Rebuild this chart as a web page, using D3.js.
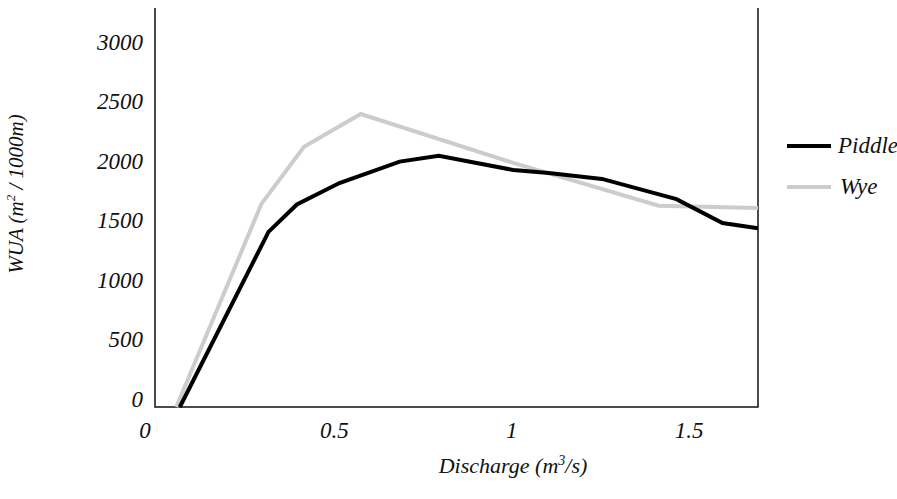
<!DOCTYPE html>
<html>
<head>
<meta charset="utf-8">
<script src="https://cdn.jsdelivr.net/npm/d3@7"></script>
<style>
  body { margin: 0; background: #fff; }
</style>
</head>
<body>
<svg id="chart" width="897" height="499"></svg>
<script>
// discharge (m3/s) and WUA
let piddleX = [0.07, 0.32, 0.40, 0.52, 0.69, 0.80, 1.01, 1.11, 1.26, 1.47, 1.60, 1.70];
let piddleY = [0, 1470, 1700, 1880, 2060, 2110, 1990, 1965, 1915, 1745, 1545, 1500];
let wyeX = [0.06, 0.30, 0.42, 0.58, 1.01, 1.42, 1.70];
let wyeY = [0, 1705, 2185, 2460, 2050, 1690, 1670];
let xTicks = [0, 0.5, 1, 1.5];
let yTicks = [0, 500, 1000, 1500, 2000, 2500, 3000];

let series = [
  {name: 'Wye', color: '#cccccc', xs: wyeX, ys: wyeY},
  {name: 'Piddle', color: '#000000', xs: piddleX, ys: piddleY}
];

let svg = d3.select("#chart")
  .attr('font-family', "'Liberation Serif', 'Times New Roman', serif")
  .attr('font-style', 'italic');

let plotLeft = 155, plotRight = 758, plotTop = 8, plotBottom = 407;

let xScale = d3.scaleLinear().domain([0, 1.7]).range([plotLeft, plotRight]);
let yScale = d3.scaleLinear().domain([0, 3350]).range([plotBottom, plotTop]);

// frame: left, bottom, right
svg.append('path')
  .attr('d', `M${plotLeft},${plotTop}V${plotBottom}H${plotRight}V${plotTop}`)
  .attr('fill', 'none')
  .attr('stroke', '#111')
  .attr('stroke-width', 1.5);

// y tick labels, baseline on the value
svg.selectAll('.ytick')
  .data(yTicks)
  .enter()
  .append('text')
  .attr('class', 'ytick')
  .attr('x', 143)
  .attr('y', d => yScale(d))
  .attr('text-anchor', 'end')
  .attr('font-size', 23)
  .attr('fill', '#111')
  .text(d => d);

// x tick labels
svg.selectAll('.xtick')
  .data(xTicks)
  .enter()
  .append('text')
  .attr('class', 'xtick')
  .attr('x', d => xScale(d) + (d === 0 ? -10 : 2))
  .attr('y', 438)
  .attr('text-anchor', 'middle')
  .attr('font-size', 23)
  .attr('fill', '#111')
  .text(d => d);

let line = d3.line()
  .x(d => xScale(d[0]))
  .y(d => yScale(d[1]));

svg.selectAll('.series')
  .data(series)
  .enter()
  .append('path')
  .attr('class', 'series')
  .attr('d', s => line(s.xs.map((x, i) => [x, s.ys[i]])))
  .attr('fill', 'none')
  .attr('stroke', s => s.color)
  .attr('stroke-width', 4)
  .attr('stroke-linejoin', 'miter');

// legend
let legendItems = [series[1], series[0]];
let legend = svg.selectAll('.legend')
  .data(legendItems)
  .enter()
  .append('g')
  .attr('class', 'legend')
  .attr('transform', (d, i) => `translate(787, ${146 + i * 41})`);

legend.append('line')
  .attr('x1', 0).attr('x2', 44)
  .attr('stroke', d => d.color)
  .attr('stroke-width', 4);

legend.append('text')
  .attr('x', (d, i) => i === 0 ? 51 : 53)
  .attr('y', 7)
  .attr('font-size', 23)
  .attr('fill', '#111')
  .text(d => d.name);

// axis titles
let xt = svg.append('text')
  .attr('x', 513)
  .attr('y', 473)
  .attr('text-anchor', 'middle')
  .attr('font-size', 22)
  .attr('fill', '#111');
xt.append('tspan').text('Discharge (m');
xt.append('tspan').attr('font-size', 14).attr('dy', -8).text('3');
xt.append('tspan').attr('dy', 8).text('/s)');

let yt = svg.append('text')
  .attr('transform', 'translate(23, 194) rotate(-90)')
  .attr('text-anchor', 'middle')
  .attr('font-size', 21)
  .attr('fill', '#111');
yt.append('tspan').text('WUA (m');
yt.append('tspan').attr('font-size', 13).attr('dy', -8).text('2');
yt.append('tspan').attr('dy', 8).text(' / 1000m)');
</script>
</body>
</html>
